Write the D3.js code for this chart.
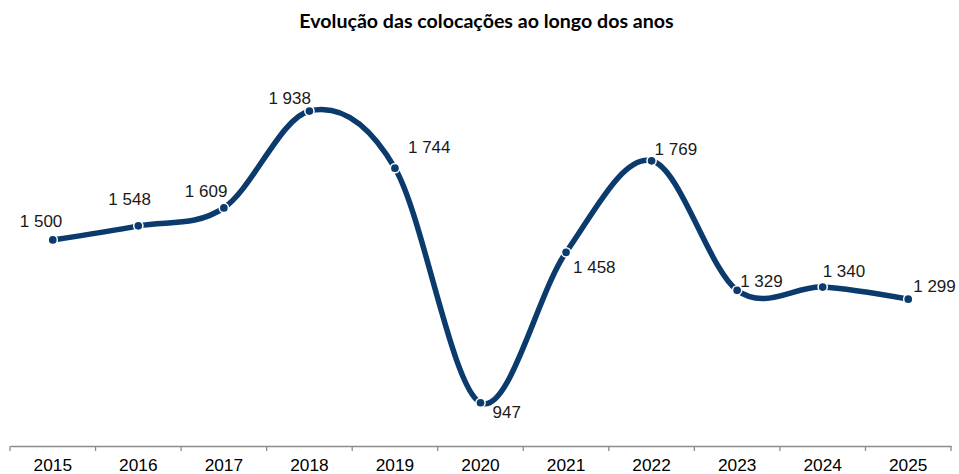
<!DOCTYPE html>
<html><head><meta charset="utf-8">
<script src="https://cdn.jsdelivr.net/npm/d3@7"></script>
<style>html,body{margin:0;padding:0;background:#fff;}</style>
</head><body>
<svg id="chart" width="959" height="474"></svg>
<script>
const title = "Evolução das colocações ao longo dos anos";
const years = ["2015","2016","2017","2018","2019","2020","2021","2022","2023","2024","2025"];
const values = [1500,1548,1609,1938,1744,947,1458,1769,1329,1340,1299];
const labels = ["1 500","1 548","1 609","1 938","1 744","947","1 458","1 769","1 329","1 340","1 299"];
// label placement relative to point: [dx, dy]
const labelPos = [[-33,-13],[-30,-21],[-39,-11],[-41,-7],[13,-15],[12,15],[7,21],[3,-6],[3,-3.5],[0,-10],[5,-7.5]];

const svg = d3.select("#chart");
const color = "#0b3a6c";
const x = d3.scaleBand().domain(years).range([10, 951]).padding(0);
const y = d3.scaleLinear().domain([800, 2000]).range([446, 92.8]);

svg.append("text").attr("x", 486.5).attr("y", 28).attr("text-anchor","middle")
  .style("font-family","Lato, 'Open Sans', sans-serif").style("font-weight","bold").style("font-size","19.6px")
  .attr("fill","#000").text(title);

const axis = svg.append("g").attr("transform","translate(0,446)")
  .call(d3.axisBottom(x).tickSize(0).tickPadding(13));
axis.select(".domain").attr("stroke","#8c8c8c").attr("stroke-width",1.3);
axis.selectAll("text").style("font-family","'Liberation Sans', Arial, sans-serif").style("font-size","17.3px").attr("fill","#000");
// boundary tick marks between categories
const bounds = years.map(d => x(d)).concat([x(years[years.length-1]) + x.bandwidth()]);
axis.selectAll("line.bt").data(bounds).enter().append("line").attr("class","bt")
  .attr("x1", d=>d).attr("x2", d=>d).attr("y1",0).attr("y2",5).attr("stroke","#8c8c8c").attr("stroke-width",1.3);

const cx = d => x(d) + x.bandwidth()/2;
const data = years.map((d,i)=>({year:d, v:values[i], label:labels[i], pos:labelPos[i]}));

const line = d3.line().x(d=>cx(d.year)).y(d=>y(d.v)).curve(d3.curveCardinal.tension(0));
svg.append("path").datum(data).attr("d", line).attr("fill","none").attr("stroke", color)
  .attr("stroke-width",5.5).attr("stroke-linecap","round");

svg.selectAll("circle.pt").data(data).enter().append("circle").attr("class","pt")
  .attr("cx", d=>cx(d.year)).attr("cy", d=>y(d.v)).attr("r",4.6)
  .attr("fill", color).attr("stroke","#fff").attr("stroke-width",1.5);

svg.selectAll("text.lbl").data(data).enter().append("text").attr("class","lbl")
  .attr("x", d=>cx(d.year)+d.pos[0]).attr("y", d=>y(d.v)+d.pos[1])
  .style("font-family","'Liberation Sans', Arial, sans-serif").style("font-size","17px").attr("fill","#1a1a1a")
  .text(d=>d.label);
</script>
</body></html>
